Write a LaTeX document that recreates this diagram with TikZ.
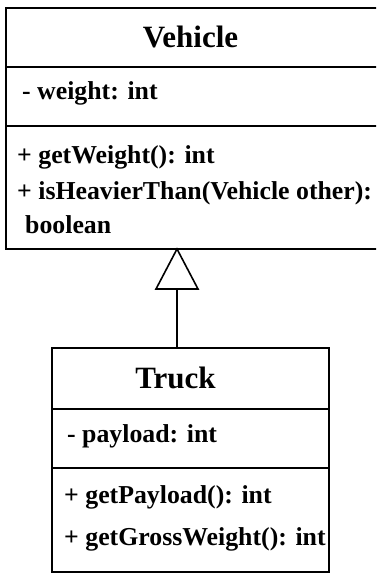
\documentclass[tikz,border=0pt]{standalone}
\usepackage{fontspec}
\setmainfont{Liberation Serif}
\begin{document}
\begin{tikzpicture}[x=1pt,y=-1pt,
  boxline/.style={draw=black,line width=1.6pt},
  titletext/.style={anchor=base,inner sep=0pt,font=\bfseries\fontsize{31}{35}\selectfont},
  membertext/.style={anchor=base west,inner sep=0pt,font=\bfseries\fontsize{25.8}{30}\selectfont},
  inherit/.style={draw=black,line width=1.6pt}]
\clip (0,0) rectangle (376,573);
% Vehicle class
\draw[boxline] (6,8) rectangle (382,249);
\draw[boxline] (6,67) -- (382,67);
\draw[boxline] (6,126) -- (382,126);
\node[titletext] (vtitle) at (190.5,47) {Vehicle};
\node[membertext] (vattr) at (22,99) {- weight: int};
\node[membertext] (vm1) at (17,163) {+ getWeight(): int};
\node[membertext] (vm2) at (17,199) {+ isHeavierThan(Vehicle other):};
\node[membertext] (vm3) at (25,233) {boolean};
\coordinate (vbottom) at (177,249);
% Truck class
\draw[boxline] (52,348) rectangle (329,572);
\draw[boxline] (52,409) -- (329,409);
\draw[boxline] (52,468) -- (329,468);
\node[titletext] (ttitle) at (175.5,388) {Truck};
\node[membertext] (tattr) at (67,442) {- payload: int};
\node[membertext] (tm1) at (64,503) {+ getPayload(): int};
\node[membertext] (tm2) at (64,545) {+ getGrossWeight(): int};
\coordinate (ttop) at (177,348);
% generalization arrow
\coordinate (tribase) at (177,289);
\draw[inherit] (ttop) -- (tribase);
\draw[inherit,fill=white,line join=miter] (156,289) -- (vbottom) -- (198,289) -- cycle;
\end{tikzpicture}
\end{document}
